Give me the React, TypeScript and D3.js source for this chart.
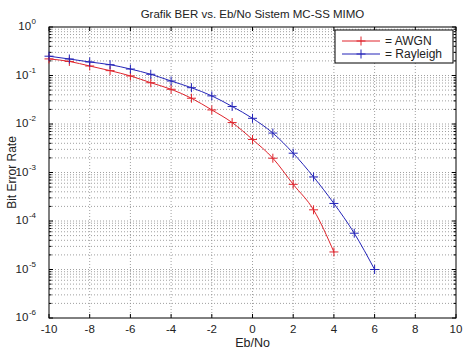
import React from "react";
import * as d3 from "d3";

const title = "Grafik BER vs. Eb/No Sistem MC-SS MIMO";
const xLabel = "Eb/No";
const yLabel = "Bit Error Rate";
const xTicks = [-10, -8, -6, -4, -2, 0, 2, 4, 6, 8, 10];
const yExps = [0, -1, -2, -3, -4, -5, -6];

const ebAwgn = [-10, -9, -8, -7, -6, -5, -4, -3, -2, -1, 0, 1, 2, 3, 4];
const berAwgn = [0.22, 0.195, 0.157, 0.126, 0.098, 0.071, 0.052, 0.034, 0.0195, 0.0107, 0.0048, 0.00197, 0.00057, 0.00017, 0.000023];
const ebRay = [-10, -9, -8, -7, -6, -5, -4, -3, -2, -1, 0, 1, 2, 3, 4, 5, 6];
const berRay = [0.25, 0.219, 0.19, 0.167, 0.136, 0.106, 0.077, 0.056, 0.038, 0.023, 0.0131, 0.0065, 0.0025, 0.00081, 0.00023, 0.000056, 0.00001];

const series = [
  { name: "= AWGN", x: ebAwgn, y: berAwgn, color: "#e0242c" },
  { name: "= Rayleigh", x: ebRay, y: berRay, color: "#2424b8" },
];

const W = 471, H = 357;
const L = 49, R = 456, T = 27, B = 318;
const font = "'Liberation Sans', Arial, sans-serif";

export default function App() {
  const x = d3.scaleLinear().domain([-10, 10]).range([L, R]);
  const y = d3.scaleLog().domain([1e-6, 1]).range([B, T]);
  const line = d3.line<[number, number]>().x(d => x(d[0])).y(d => y(d[1])).curve(d3.curveMonotoneX);

  const minorVals: number[] = [];
  for (let e = -6; e < 0; e++) for (let m = 2; m <= 9; m++) minorVals.push(m * Math.pow(10, e));
  const majorVals = yExps.map(e => Math.pow(10, e));

  const grid = "#888";
  const dash = "1,2";
  const ms = 4.5;
  const plus = (cx: number, cy: number, c: string, k: string) => (
    <g key={k} stroke={c} strokeWidth={1}>
      <line x1={cx - ms} x2={cx + ms} y1={cy} y2={cy} />
      <line x1={cx} x2={cx} y1={cy - ms} y2={cy + ms} />
    </g>
  );

  return (
    <svg width={W} height={H} style={{ position: "absolute", left: 0, top: 0, background: "#fff" }} fontFamily={font}>
      <rect x={0} y={0} width={W} height={H} fill="#fff" />
      {xTicks.slice(1, -1).map(t => (
        <line key={"gx" + t} x1={x(t)} x2={x(t)} y1={T} y2={B} stroke={grid} strokeWidth={0.8} strokeDasharray={dash} />
      ))}
      {[...minorVals, ...majorVals.slice(1, -1)].map((v, i) => (
        <line key={"gy" + i} x1={L} x2={R} y1={y(v)} y2={y(v)} stroke={grid} strokeWidth={0.8} strokeDasharray={dash} />
      ))}
      {xTicks.map(t => (
        <g key={"tx" + t} stroke="#000">
          <line x1={x(t)} x2={x(t)} y1={B} y2={B - 4} />
          <line x1={x(t)} x2={x(t)} y1={T} y2={T + 4} />
        </g>
      ))}
      {majorVals.map((v, i) => (
        <g key={"ty" + i} stroke="#000">
          <line x1={L} x2={L + 4} y1={y(v)} y2={y(v)} />
          <line x1={R} x2={R - 4} y1={y(v)} y2={y(v)} />
        </g>
      ))}
      {minorVals.map((v, i) => (
        <g key={"tym" + i} stroke="#000">
          <line x1={L} x2={L + 2.5} y1={y(v)} y2={y(v)} />
          <line x1={R} x2={R - 2.5} y1={y(v)} y2={y(v)} />
        </g>
      ))}
      <rect x={L} y={T} width={R - L} height={B - T} fill="none" stroke="#000" strokeWidth={1} />
      {series.map(s => {
        const pts = s.x.map((v, i) => [v, s.y[i]] as [number, number]);
        return (
          <g key={s.name}>
            <path d={line(pts) || ""} fill="none" stroke={s.color} strokeWidth={1} />
            {pts.map((p, i) => plus(x(p[0]), y(p[1]), s.color, s.name + i))}
          </g>
        );
      })}
      {xTicks.map(t => (
        <text key={"lx" + t} x={x(t)} y={333} fontSize={11.5} textAnchor="middle" fill="#222">{t}</text>
      ))}
      {yExps.map(e => (
        <text key={"ly" + e} x={36} y={y(Math.pow(10, e)) + 3} fontSize={11.5} textAnchor="end" fill="#222">
          10
          <tspan dx={0.5} dy={-6} fontSize={8}>{e}</tspan>
        </text>
      ))}
      <text x={(L + R) / 2} y={18} fontSize={11.5} textAnchor="middle" fill="#222">{title}</text>
      <text x={(L + R) / 2} y={347} fontSize={12.5} textAnchor="middle" fill="#222">{xLabel}</text>
      <text transform={`translate(16,${(T + B) / 2}) rotate(-90)`} fontSize={12} textAnchor="middle" fill="#222">{yLabel}</text>
      <g>
        <rect x={335} y={30} width={118} height={33} fill="#fff" stroke="#000" strokeWidth={1} />
        {series.map((s, i) => {
          const ly = 41 + i * 13;
          return (
            <g key={"lg" + i}>
              <line x1={342} x2={380} y1={ly} y2={ly} stroke={s.color} strokeWidth={1} />
              {plus(361, ly, s.color, "lgm" + i)}
              <text x={385} y={ly + 4} fontSize={12} fill="#222">{s.name}</text>
            </g>
          );
        })}
      </g>
    </svg>
  );
}
